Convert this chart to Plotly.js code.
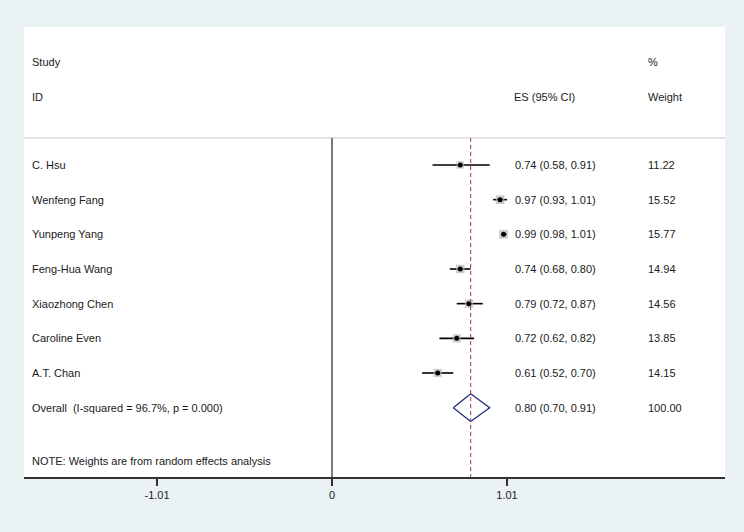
<!DOCTYPE html>
<html>
<head>
<meta charset="utf-8">
<script src="https://cdn.plot.ly/plotly-3.0.1.min.js"></script>
<style>html,body{margin:0;padding:0;background:#eaf2f3;}</style>
</head>
<body>
<div id="chart" style="width:744px;height:532px;"></div>
<script>
const studies = ["C. Hsu", "Wenfeng Fang", "Yunpeng Yang", "Feng-Hua Wang", "Xiaozhong Chen", "Caroline Even", "A.T. Chan"];
const es = [0.74, 0.97, 0.99, 0.74, 0.79, 0.72, 0.61];
const lo = [0.58, 0.93, 0.98, 0.68, 0.72, 0.62, 0.52];
const hi = [0.91, 1.01, 1.01, 0.80, 0.87, 0.82, 0.70];
const weights = [11.22, 15.52, 15.77, 14.94, 14.56, 13.85, 14.15];
const overallLabel = "Overall  (I-squared = 96.7%, p = 0.000)";
const overallES = 0.80, overallLo = 0.70, overallHi = 0.91, overallW = 100.00;
const tickVals = [-1.01, 0, 1.01];
const tickText = ["-1.01", "0", "1.01"];
const noteText = "NOTE: Weights are from random effects analysis";

const rows = studies.map((_, i) => i);
const overallRow = studies.length;
const headerLine = -0.78;
const yBottom = 9.0, yTop = -3.98;

const traces = [];
// CI lines
const cx = [], cy = [];
rows.forEach(i => { cx.push(lo[i], hi[i], null); cy.push(i, i, null); });
traces.push({x: cx, y: cy, mode: 'lines', line: {color: '#000', width: 1.6}, hoverinfo: 'skip'});
// weight squares
traces.push({x: es, y: rows, mode: 'markers', marker: {symbol: 'square', color: '#b8b8b8', size: weights.map(w => 2.2 * Math.sqrt(w)), line: {width: 0}}, hoverinfo: 'skip'});
// point dots
traces.push({x: es, y: rows, mode: 'markers', marker: {symbol: 'circle', color: '#000', size: 5}, hoverinfo: 'skip'});
// diamond
const dh = 0.4;
traces.push({x: [overallLo, overallES, overallHi, overallES, overallLo], y: [overallRow, overallRow - dh, overallRow, overallRow + dh, overallRow], mode: 'lines', line: {color: '#1c2a80', width: 1.3}, hoverinfo: 'skip'});

const fnt = {family: 'Liberation Sans, Arial, sans-serif', size: 11, color: '#1a1a1a'};
const ann = [];
function addText(txt, xp, y) {
  ann.push({text: txt, xref: 'paper', x: xp, yref: 'y', y: y, xanchor: 'left', yanchor: 'middle', showarrow: false, font: fnt});
}
const xName = 0.0086, xES = 0.698, xW = 0.888;
addText('Study', xName, -2.97);
addText('ID', xName, -1.96);
addText('ES (95% CI)', 0.696, -1.96);
addText('%', xW, -2.97);
addText('Weight', xW, -1.96);
rows.forEach(i => {
  addText(studies[i], xName, i);
  addText(es[i].toFixed(2) + ' (' + lo[i].toFixed(2) + ', ' + hi[i].toFixed(2) + ')', xES, i);
  addText(weights[i].toFixed(2), xW, i);
});
addText(overallLabel.replace(/  /g, ' \u00a0'), xName, overallRow);
addText(overallES.toFixed(2) + ' (' + overallLo.toFixed(2) + ', ' + overallHi.toFixed(2) + ')', xES, overallRow);
addText(overallW.toFixed(2), xW, overallRow);
addText(noteText, xName, 8.54);

const shapes = [
  {type: 'line', xref: 'paper', x0: 0, x1: 1, yref: 'y', y0: headerLine, y1: headerLine, line: {color: '#c8c8c8', width: 1}},
  {type: 'line', xref: 'x', x0: 0, x1: 0, yref: 'y', y0: headerLine, y1: yBottom, line: {color: '#333', width: 1.3}},
  {type: 'line', xref: 'x', x0: overallES, x1: overallES, yref: 'y', y0: headerLine, y1: yBottom, line: {color: '#a0525e', width: 1.1, dash: '4px,3px'}}
];

const layout = {
  width: 744, height: 532,
  margin: {l: 24, r: 19, t: 27, b: 55},
  paper_bgcolor: '#eaf2f3', plot_bgcolor: '#ffffff',
  showlegend: false,
  xaxis: {range: [-1.7776, 2.268], showgrid: false, zeroline: false, showline: true, linecolor: '#333', linewidth: 1.5,
          ticks: 'outside', ticklen: 7, tickwidth: 1.2, tickcolor: '#333', tickvals: tickVals, ticktext: tickText,
          tickfont: {family: 'Liberation Sans, Arial, sans-serif', size: 11, color: '#1a1a1a'}, fixedrange: true},
  yaxis: {range: [yBottom, yTop], visible: false, showgrid: false, zeroline: false, fixedrange: true},
  annotations: ann,
  shapes: shapes
};
Plotly.newPlot('chart', traces, layout, {staticPlot: true, displayModeBar: false});
</script>
</body>
</html>
